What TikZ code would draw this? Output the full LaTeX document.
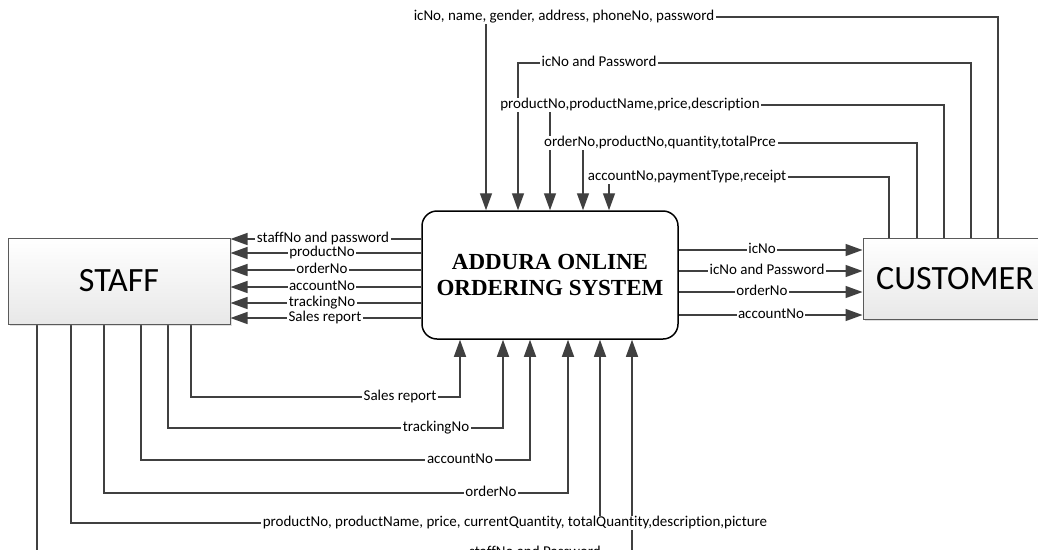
\documentclass[tikz,border=0pt]{standalone}
\usepackage{fontspec}
\setmainfont{Carlito}[Ligatures={NoCommon}]
\newfontfamily\sysfont{Liberation Serif}
\usetikzlibrary{arrows.meta,shadows}
\pgfdeclarelayer{paper}
\pgfdeclarelayer{wires}
\pgfsetlayers{paper,wires,main}
\definecolor{wire}{HTML}{404040}
\definecolor{edge}{HTML}{5A5A5A}
\tikzset{
  wirebase/.style={draw=wire, line width=1.4pt},
  flow/.style={wirebase, -{Triangle[length=17pt,width=12pt]}},
  link/.style={wirebase},
  lbl/.style={fill=white, inner xsep=1.5pt, inner ysep=0pt,
    font=\fontsize{15}{18}\selectfont, text height=10.5pt, text depth=3pt},
  entity/.style={draw=edge, line width=1pt, top color=white, bottom color=black!9,
    font=\fontsize{34}{40}\selectfont,
    drop shadow={shadow xshift=2pt, shadow yshift=-2pt, opacity=.25}},
  process/.style={draw=black, line width=1.5pt, rounded corners=15pt, fill=white,
    align=center, font=\sysfont\fontsize{23}{26.5}\selectfont\bfseries}
}
\begin{document}
\begin{tikzpicture}[x=1pt,y=-1pt]
\useasboundingbox (0,0) rectangle (1038,549);
\begin{pgfonlayer}{paper}
  \fill[white] (0,0) rectangle (1038,549);
\end{pgfonlayer}

% external entities and the process
\node[entity, minimum width=222, minimum height=86] (staff) at (119,281) {STAFF};
\node[entity, minimum width=184, minimum height=81] (cust) at (955,278.5) {CUSTOMER};
\node[process, minimum width=256, minimum height=128] (sys) at (550,275)
  {ADDURA ONLINE\\ORDERING SYSTEM};

% customer -> system (top)
\node[lbl] (t1) at (564,17) {icNo, name, gender, address, phoneNo, password};
\node[lbl] (t2) at (599,63) {icNo and Password};
\node[lbl] (t3) at (630,105) {productNo,productName,price,description};
\node[lbl] (t4) at (660,143) {orderNo,productNo,quantity,totalPrce};
\node[lbl] (t5) at (687,177) {accountNo,paymentType,receipt};

% system -> staff (left)
\node[lbl] (l1) at (323,239) {staffNo and password};
\node[lbl] (l2) at (322,253) {productNo};
\node[lbl] (l3) at (322,270) {orderNo};
\node[lbl] (l4) at (322,287) {accountNo};
\node[lbl] (l5) at (322,303) {trackingNo};
\node[lbl] (l6) at (325,318) {Sales report};

% system -> customer (right)
\node[lbl] (r1) at (762,250) {icNo};
\node[lbl] (r2) at (767,271) {icNo and Password};
\node[lbl] (r3) at (762,292) {orderNo};
\node[lbl] (r4) at (771,315) {accountNo};

% staff -> system (bottom)
\node[lbl] (b1) at (400,397) {Sales report};
\node[lbl] (b2) at (436,428) {trackingNo};
\node[lbl] (b3) at (460,460) {accountNo};
\node[lbl] (b4) at (491,493) {orderNo};
\node[lbl] (b5) at (515,523) {productNo, productName, price, currentQuantity, totalQuantity,description,picture};
\node[lbl] (b6) at (535,553) {staffNo and Password};

\begin{pgfonlayer}{wires}
  % top flows
  \draw[link] (cust.north -| 998,0) |- (t1.east);
  \draw[flow] (t1.south -| 486,0) -- (sys.north -| 486,0);
  \draw[link] (cust.north -| 971,0) |- (t2.east);
  \draw[flow] (t2.west) -| (sys.north -| 518,0);
  \draw[link] (cust.north -| 944,0) |- (t3.east);
  \draw[flow] (t3.south -| 550,0) -- (sys.north -| 550,0);
  \draw[link] (cust.north -| 917,0) |- (t4.east);
  \draw[flow] (t4.south -| 583,0) -- (sys.north -| 583,0);
  \draw[link] (cust.north -| 889,0) |- (t5.east);
  \draw[flow] (t5.south -| 609,0) -- (sys.north -| 609,0);

  % left flows
  \foreach \n in {l1,l2,l3,l4,l5,l6}
    \draw[flow] (sys.west |- \n) -- (staff.east |- \n);

  % right flows
  \foreach \n in {r1,r2,r3,r4}
    \draw[flow] (sys.east |- \n) -- (cust.west |- \n);

  % bottom flows
  \draw[link] (staff.south -| 191,0) |- (b1.west);
  \draw[flow] (b1.east) -| (sys.south -| 460,0);
  \draw[link] (staff.south -| 168,0) |- (b2.west);
  \draw[flow] (b2.east) -| (sys.south -| 503,0);
  \draw[link] (staff.south -| 141,0) |- (b3.west);
  \draw[flow] (b3.east) -| (sys.south -| 530,0);
  \draw[link] (staff.south -| 104,0) |- (b4.west);
  \draw[flow] (b4.east) -| (sys.south -| 568,0);
  \draw[link] (staff.south -| 71,0) |- (b5.west);
  \draw[flow] (b5.north -| 600,0) -- (sys.south -| 600,0);
  \draw[link] (staff.south -| 37,0) |- (b6.west);
  \draw[flow] (b6.east) -| (sys.south -| 632,0);
\end{pgfonlayer}
\end{tikzpicture}
\end{document}
